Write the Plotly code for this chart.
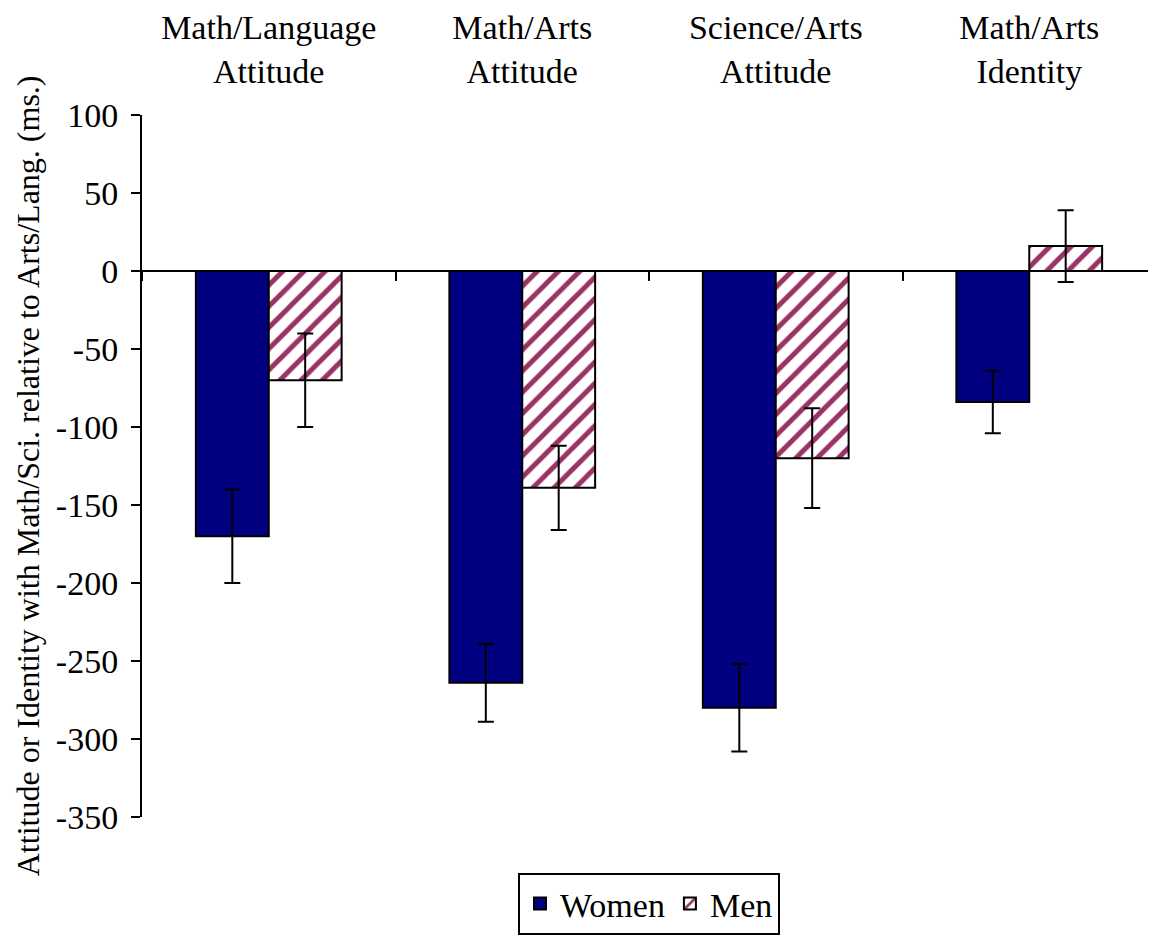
import plotly.graph_objects as go

categories = ["Math/Language<br>Attitude", "Math/Arts<br>Attitude",
              "Science/Arts<br>Attitude", "Math/Arts<br>Identity"]
women = [-170, -264, -280, -84]
women_err = [30, 25, 28, 20]
men = [-70, -139, -120, 16]
men_err = [30, 27, 32, 23]
y_ticks = [100, 50, 0, -50, -100, -150, -200, -250, -300, -350]
y_tick_text = ["100", "50", "0", "-50", "-100", "-150", "-200", "-250", "-300", "-350"]
boundaries = [-0.5, 0.5, 1.5, 2.5, 3.5]
y_title = "Attitude or Identity with Math/Sci. relative to Arts/Lang. (ms.)"

FONT = "Liberation Serif, Times New Roman, serif"
FS = 34

fig = go.Figure()
fig.add_trace(go.Bar(
    name="Women", x=categories, y=women,
    marker=dict(color="#000080", line=dict(color="black", width=2)),
    error_y=dict(type="data", array=women_err, color="black", thickness=2, width=8),
))
fig.add_trace(go.Bar(
    name="Men", x=categories, y=men,
    marker=dict(color="white", line=dict(color="black", width=2),
                pattern=dict(shape="/", fgcolor="#993366", bgcolor="white",
                             size=15, solidity=0.33, fillmode="replace")),
    error_y=dict(type="data", array=men_err, color="black", thickness=2, width=8),
))
# helper trace (no data) so the category-boundary axis on the zero line is drawn
fig.add_trace(go.Scatter(x=boundaries, y=[None] * len(boundaries), xaxis="x2", yaxis="y",
                         mode="markers", showlegend=False, hoverinfo="skip"))

fig.update_layout(
    width=1148, height=927,
    margin=dict(l=134, r=0, t=107, b=114),
    paper_bgcolor="white", plot_bgcolor="white",
    font=dict(family=FONT, size=FS, color="black"),
    barmode="group", bargap=0.425, bargroupgap=0,
    showlegend=True,
    legend=dict(orientation="h", x=0.5, xanchor="center", y=-0.08, yanchor="top",
                bordercolor="black", borderwidth=2, bgcolor="white",
                font=dict(family=FONT, size=FS), traceorder="normal",
                itemwidth=30),
    xaxis=dict(side="top", range=[-0.5, 3.5], showline=False, ticks="",
               showgrid=False, zeroline=False, ticklabelstandoff=24,
               tickfont=dict(family=FONT, size=FS)),
    xaxis2=dict(overlaying="x", anchor="free", position=350 / 450, side="bottom",
                range=[-0.5, 3.5], tickmode="array", tickvals=boundaries,
                ticks="outside", ticklen=9, tickwidth=2, tickcolor="black",
                showticklabels=False, showline=True, linecolor="black", linewidth=2,
                showgrid=False, zeroline=False),
    yaxis=dict(range=[-350, 100], tickmode="array", tickvals=y_ticks, ticktext=y_tick_text,
               ticks="outside", ticklen=9, tickwidth=2, tickcolor="black",
               showline=True, linecolor="black", linewidth=2,
               showgrid=False, zeroline=False, ticklabelstandoff=6,
               tickfont=dict(family=FONT, size=FS)),
    annotations=[dict(text=y_title, textangle=-90, xref="paper", yref="paper",
                      x=-0.113, y=0.486, xanchor="center", yanchor="middle",
                      showarrow=False, font=dict(family=FONT, size=32))],
)

fig.write_html("out.html")
